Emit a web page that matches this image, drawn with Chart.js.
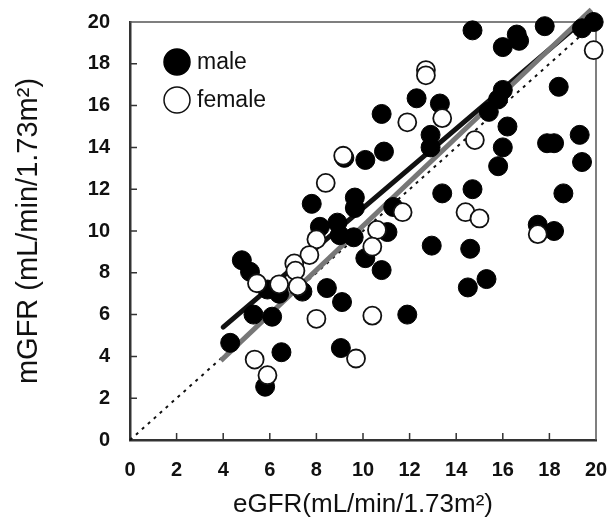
<!DOCTYPE html>
<html>
<head>
<meta charset="utf-8">
<script src="https://cdn.jsdelivr.net/npm/chart.js@4.4.0/dist/chart.umd.min.js"></script>
<style>
  html, body { margin: 0; padding: 0; background: #fff; }
  #wrap { width: 614px; height: 523px; }
</style>
</head>
<body>
<div id="wrap"><canvas id="gfrChart"></canvas></div>
<script>
// eGFR vs mGFR
const maleX = [14.7, 16.6, 16.7, 16.0, 17.8, 19.4, 19.9, 18.4, 16.0, 15.8, 15.4, 16.2, 16.0, 15.8,
  17.9, 18.2, 19.3, 19.4, 13.4, 14.7, 18.6, 17.5, 18.2, 12.95, 14.6, 15.3, 14.5, 10.8, 10.1, 9.6,
  11.05, 8.45, 9.1, 11.9, 9.05, 4.8, 5.15, 5.3, 6.1, 4.3, 6.5, 5.8, 7.4, 8.15, 8.9, 9.0, 7.8, 9.65,
  9.65, 11.3, 10.8, 12.3, 13.3, 12.9, 12.9, 10.9, 10.1, 9.2, 5.9, 6.4];
const maleY = [19.6, 19.4, 19.1, 18.8, 19.8, 19.7, 20.0, 16.9, 16.75, 16.3, 15.7, 15.0, 14.0, 13.1,
  14.2, 14.2, 14.6, 13.3, 11.8, 12.0, 11.8, 10.3, 10.0, 9.3, 9.15, 7.7, 7.3, 8.13, 8.7, 9.7,
  9.95, 7.27, 6.6, 6.0, 4.4, 8.6, 8.05, 6.0, 5.9, 4.65, 4.2, 2.55, 7.1, 10.2, 10.4, 9.8, 11.3, 11.6,
  11.1, 11.15, 15.6, 16.35, 16.1, 14.6, 14.0, 13.8, 13.4, 13.5, 7.2, 7.0];

const femaleX = [19.9, 12.7, 12.7, 11.9, 13.4, 9.15, 8.4, 11.7, 14.8, 14.4, 15.0, 17.5, 10.6, 10.4,
  8.0, 7.7, 7.05, 7.1, 7.2, 6.4, 5.45, 5.35, 5.9, 8.0, 10.4, 9.7];
const femaleY = [18.65, 17.7, 17.45, 15.2, 15.4, 13.6, 12.3, 10.9, 14.35, 10.9, 10.6, 9.85, 10.05, 9.25,
  9.6, 8.85, 8.45, 8.1, 7.35, 7.45, 7.5, 3.85, 3.1, 5.8, 5.95, 3.9];

// regression lines (end points) and line of identity
const blackFitX = [4.0, 19.8];
const blackFitY = [5.4, 20.4];
const grayFitX = [3.9, 19.8];
const grayFitY = [3.8, 20.6];
const identityX = [0, 19.6];
const identityY = [0, 19.6];

const axisMin = 0, axisMax = 20, axisStep = 2;

const FONT = '"Liberation Sans", Arial, sans-serif';

function toPoints(xs, ys) {
  return xs.map((x, i) => ({ x: x, y: ys[i] }));
}

// frame on top/right and the small inward tick marks
const frameTicks = {
  id: 'frameTicks',
  beforeDatasetsDraw(chart) {
    const { ctx, chartArea, scales } = chart;
    ctx.save();
    ctx.strokeStyle = '#555';
    ctx.lineWidth = 1.5;
    ctx.beginPath();
    ctx.moveTo(chartArea.left, chartArea.top);
    ctx.lineTo(chartArea.right, chartArea.top);
    ctx.lineTo(chartArea.right, chartArea.bottom);
    ctx.stroke();
    ctx.strokeStyle = '#333';
    ctx.beginPath();
    for (let v = axisMin + axisStep; v < axisMax; v += axisStep) {
      const px = scales.x.getPixelForValue(v);
      ctx.moveTo(px, chartArea.bottom);
      ctx.lineTo(px, chartArea.bottom - 7);
      const py = scales.y.getPixelForValue(v);
      ctx.moveTo(chartArea.left, py);
      ctx.lineTo(chartArea.left + 7, py);
    }
    ctx.stroke();
    ctx.restore();
  }
};

// legend sitting inside the plot, top left
const insideLegend = {
  id: 'insideLegend',
  afterDatasetsDraw(chart) {
    const { ctx, chartArea } = chart;
    const items = chart.data.datasets.filter(d => d.inLegend);
    ctx.save();
    items.forEach((d, i) => {
      const cx = chartArea.left + 47;
      const cy = chartArea.top + 40 + i * 38;
      ctx.beginPath();
      ctx.arc(cx, cy, 13, 0, Math.PI * 2);
      ctx.fillStyle = d.backgroundColor;
      ctx.fill();
      ctx.lineWidth = 1.5;
      ctx.strokeStyle = d.borderColor;
      ctx.stroke();
      ctx.fillStyle = '#111';
      ctx.font = '23px ' + FONT;
      ctx.textBaseline = 'middle';
      ctx.fillText(d.label, cx + 20, cy + 1);
    });
    ctx.restore();
  }
};

const chart = new Chart(document.getElementById('gfrChart').getContext('2d'), {
  type: 'scatter',
  data: {
    datasets: [
      {
        label: 'male',
        inLegend: true,
        data: toPoints(maleX, maleY),
        backgroundColor: '#000',
        borderColor: '#000',
        borderWidth: 1,
        pointRadius: 9.5,
        clip: false,
        order: 2
      },
      {
        label: 'female',
        inLegend: true,
        data: toPoints(femaleX, femaleY),
        backgroundColor: '#fff',
        borderColor: '#111',
        borderWidth: 1.8,
        pointRadius: 9,
        clip: false,
        order: 1
      },
      {
        label: 'identity',
        data: toPoints(identityX, identityY),
        showLine: true,
        borderColor: '#111',
        borderWidth: 2,
        borderDash: [3, 5],
        pointRadius: 0,
        clip: false,
        order: 5
      },
      {
        label: 'fit gray',
        data: toPoints(grayFitX, grayFitY),
        showLine: true,
        borderColor: '#777',
        borderWidth: 5,
        pointRadius: 0,
        clip: false,
        order: 3
      },
      {
        label: 'fit black',
        data: toPoints(blackFitX, blackFitY),
        showLine: true,
        borderColor: '#111',
        borderWidth: 5,
        borderCapStyle: 'round',
        pointRadius: 0,
        clip: false,
        order: 4
      }
    ]
  },
  options: {
    responsive: true,
    maintainAspectRatio: false,
    animation: false,
    layout: { padding: { top: 22, right: 18, bottom: 0, left: 0 } },
    scales: {
      x: {
        type: 'linear',
        min: axisMin,
        max: axisMax,
        afterFit: (scale) => {
          scale.height = 83;
          scale.paddingLeft = 0;
          scale.paddingRight = 0;
        },
        grid: { display: false, drawTicks: false },
        border: { display: true, color: '#333', width: 2.5 },
        ticks: {
          stepSize: axisStep,
          padding: 18,
          color: '#111',
          font: { family: FONT, size: 20, weight: 'bold' }
        },
        title: {
          display: true,
          text: 'eGFR(mL/min/1.73m²)',
          color: '#111',
          font: { family: FONT, size: 26, lineHeight: 1 },
          padding: { top: 10, bottom: 5 }
        }
      },
      y: {
        type: 'linear',
        min: axisMin,
        max: axisMax,
        afterFit: (scale) => {
          scale.width = 130;
          scale.paddingTop = 0;
          scale.paddingBottom = 0;
        },
        grid: { display: false, drawTicks: false },
        border: { display: true, color: '#333', width: 2.5 },
        ticks: {
          stepSize: axisStep,
          padding: 20,
          color: '#111',
          font: { family: FONT, size: 20, weight: 'bold' }
        },
        title: {
          display: true,
          text: 'mGFR (mL/min/1.73m²)',
          color: '#111',
          font: { family: FONT, size: 29, lineHeight: 1 },
          padding: { top: 14, bottom: 20 }
        }
      }
    },
    plugins: {
      legend: { display: false },
      tooltip: { enabled: false }
    }
  },
  plugins: [frameTicks, insideLegend]
});
</script>
</body>
</html>
